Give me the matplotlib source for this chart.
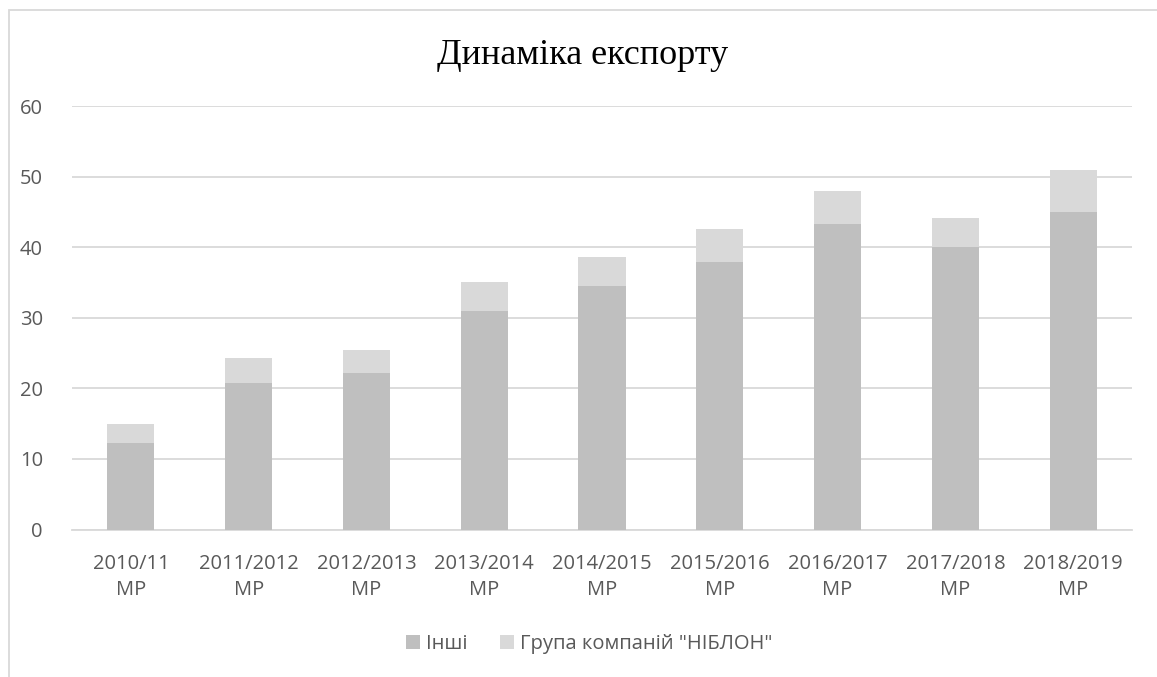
import numpy as np
import matplotlib
matplotlib.use("Agg")
import matplotlib.pyplot as plt
from matplotlib.patches import Rectangle

# Marketing years and export volumes
seasons = ["2010/11\nMP", "2011/2012\nMP", "2012/2013\nMP", "2013/2014\nMP",
           "2014/2015\nMP", "2015/2016\nMP", "2016/2017\nMP", "2017/2018\nMP",
           "2018/2019\nMP"]
others = [12.3, 20.8, 22.2, 30.9, 34.5, 37.9, 43.3, 40.0, 45.0]
niblon = [2.6, 3.5, 3.2, 4.2, 4.1, 4.7, 4.6, 4.1, 6.0]
y_ticks = [0, 10, 20, 30, 40, 50, 60]

W, H = 1157, 677
fig = plt.figure(figsize=(W / 100, H / 100), dpi=100)
fig.patch.set_facecolor("white")

# chart frame, cropped at right and bottom like the reference
fig.patches.append(Rectangle((8.5 / W, -0.2), 2.0, 1.2 - 10 / H,
                             transform=fig.transFigure, fill=False,
                             edgecolor="#D9D9D9", linewidth=1.3))

ax = fig.add_axes([72 / W, 1 - 529.5 / H, (1132 - 72) / W, (529.5 - 106) / H])

x = np.arange(len(seasons))
bar_w = 0.40
ax.bar(x, others, width=bar_w, color="#BFBFBF", label="Інші", zorder=3)
ax.bar(x, niblon, width=bar_w, bottom=others, color="#D9D9D9",
       label='Група компаній "НІБЛОН"', zorder=3)

ax.set_xlim(-0.5, len(seasons) - 0.5)
ax.set_ylim(0, 60)
ax.set_yticks(y_ticks)
ax.set_xticks(x)
ax.set_xticklabels(seasons)
ax.grid(axis="y", color="#D9D9D9", linewidth=1.3, zorder=0)
for side in ["top", "right", "left"]:
    ax.spines[side].set_visible(False)
ax.spines["bottom"].set_color("#D9D9D9")
ax.spines["bottom"].set_linewidth(1.3)
ax.tick_params(length=0, labelsize=14.5, labelcolor="#595959")
ax.tick_params(axis="x", pad=17.5)
ax.tick_params(axis="y", pad=21)
for lbl in ax.get_xticklabels() + ax.get_yticklabels():
    lbl.set_fontfamily("Open Sans")
    lbl.set_linespacing(1.43)

fig.text(583 / W, 1 - 55 / H, "Динаміка експорту", ha="center", va="center",
         fontsize=26, family="Liberation Serif", color="black")

leg = fig.legend(loc="center", bbox_to_anchor=(589 / W, 1 - 644 / H),
                 ncol=2, frameon=False, handlelength=0.7, handleheight=0.7,
                 handletextpad=0.3, columnspacing=1.6,
                 prop={"family": "Open Sans", "size": 14.5})
for t in leg.get_texts():
    t.set_color("#595959")

fig.savefig("out.png", dpi=100)
